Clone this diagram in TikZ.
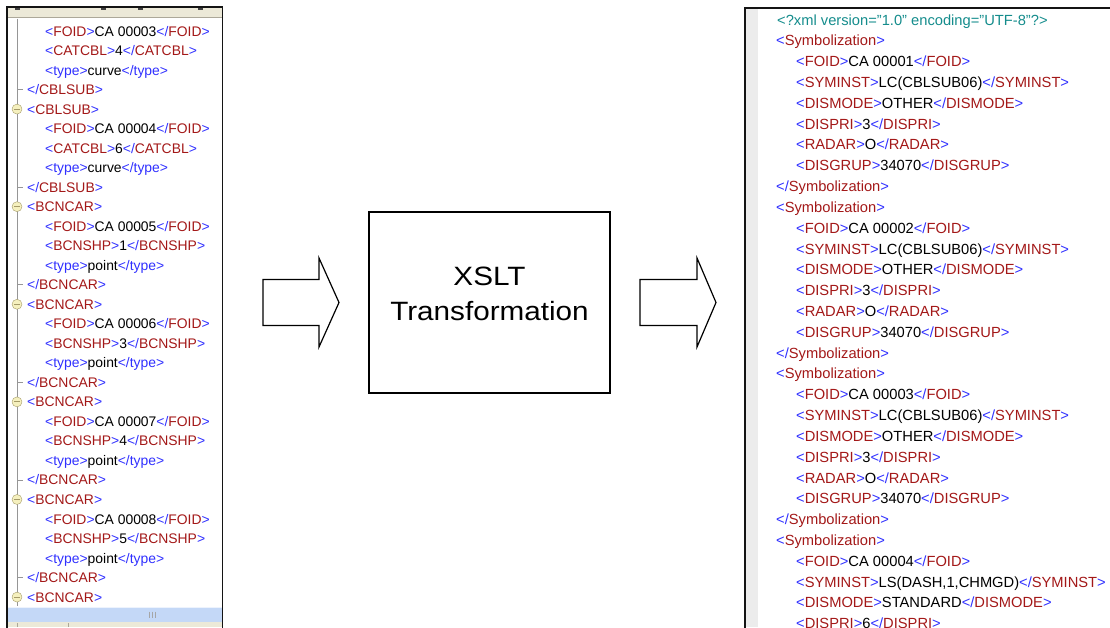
\documentclass[tikz,border=0pt]{standalone}
\usepackage{fontspec}
\setmainfont{Liberation Sans}
\definecolor{tagbr}{RGB}{48,48,255}
\definecolor{tagnm}{RGB}{163,24,24}
\definecolor{decl}{RGB}{20,140,140}
\definecolor{hdr}{RGB}{236,233,216}
\definecolor{hdrline}{RGB}{172,168,153}
\definecolor{gut}{RGB}{236,236,236}
\definecolor{treeln}{RGB}{150,150,150}
\definecolor{iconfill}{RGB}{245,240,190}
\definecolor{iconedge}{RGB}{165,155,105}
\definecolor{scroll}{RGB}{196,216,247}
\definecolor{frame}{RGB}{20,20,20}

% XML markup helpers
\newcommand\xo[1]{\textcolor{tagbr}{<}\textcolor{tagnm}{#1}\textcolor{tagbr}{>}}
\newcommand\xc[1]{\textcolor{tagbr}{</}\textcolor{tagnm}{#1}\textcolor{tagbr}{>}}
\newcommand\xel[2]{\xo{#1}#2\xc{#1}}
\newcommand\xty[1]{\textcolor{tagbr}{<type>}#1\textcolor{tagbr}{</type>}}

\begin{document}
\begin{tikzpicture}[x=1pt,y=-1pt,
  lt/.style={anchor=base west, inner sep=0pt, font=\fontsize{13.9}{16}\selectfont},
  rt/.style={anchor=base west, inner sep=0pt, font=\fontsize{14.7}{17}\selectfont},
  fold/.style={circle, draw=iconedge, fill=iconfill, minimum size=10pt, inner sep=0pt,
    path picture={\draw[iconedge, line width=1pt]
      ([xshift=-3pt]path picture bounding box.center) -- ([xshift=3pt]path picture bounding box.center);}},
  twig/.style={treeln, line width=0.8pt},
  blockarrow/.style={draw=black, line width=1.2pt, line join=miter, fill=white},
  panel/.style={frame, line width=1.8pt}
]
\useasboundingbox (0,0) rectangle (1110,627);
\clip (0,0) rectangle (1110,627);

% ---------------- source document (left pane) ----------------
\fill[hdr] (8,8) rectangle (222,17.5);
\draw[hdrline, line width=1pt] (8,17.8) -- (222,17.8);
\foreach \mx in {17,103,140,200}
  \fill[black!75] (\mx-2.5,8) rectangle (\mx+2.5,9.6);
\fill[scroll] (8,607) rectangle (222,622);
\draw[white!70!scroll, line width=0.8pt] (8,607.5) -- (222,607.5);
\foreach \gx in {149,152,155}
  \draw[black!35, line width=0.6pt] (\gx,611.5) -- (\gx,617.5);
\fill[hdr] (8,622) rectangle (222,627);
\foreach \sx in {17,68}
  \draw[hdrline, line width=0.6pt] (\sx,623) -- (\sx,627);

\draw[twig] (17,18.5) -- (17,606);

\node[lt] (l1)  at (45,36)     {\xel{FOID}{CA 00003}};
\node[lt] (l2)  at (45,55.52)  {\xel{CATCBL}{4}};
\node[lt] (l3)  at (45,75.04)  {\xty{curve}};
\node[lt] (l4)  at (27,94.56)  {\xc{CBLSUB}};
\node[lt] (l5)  at (27,114.08) {\xo{CBLSUB}};
\node[lt] (l6)  at (45,133.6)  {\xel{FOID}{CA 00004}};
\node[lt] (l7)  at (45,153.12) {\xel{CATCBL}{6}};
\node[lt] (l8)  at (45,172.64) {\xty{curve}};
\node[lt] (l9)  at (27,192.16) {\xc{CBLSUB}};
\node[lt] (l10) at (27,211.68) {\xo{BCNCAR}};
\node[lt] (l11) at (45,231.2)  {\xel{FOID}{CA 00005}};
\node[lt] (l12) at (45,250.72) {\xel{BCNSHP}{1}};
\node[lt] (l13) at (45,270.24) {\xty{point}};
\node[lt] (l14) at (27,289.76) {\xc{BCNCAR}};
\node[lt] (l15) at (27,309.28) {\xo{BCNCAR}};
\node[lt] (l16) at (45,328.8)  {\xel{FOID}{CA 00006}};
\node[lt] (l17) at (45,348.32) {\xel{BCNSHP}{3}};
\node[lt] (l18) at (45,367.84) {\xty{point}};
\node[lt] (l19) at (27,387.36) {\xc{BCNCAR}};
\node[lt] (l20) at (27,406.88) {\xo{BCNCAR}};
\node[lt] (l21) at (45,426.4)  {\xel{FOID}{CA 00007}};
\node[lt] (l22) at (45,445.92) {\xel{BCNSHP}{4}};
\node[lt] (l23) at (45,465.44) {\xty{point}};
\node[lt] (l24) at (27,484.96) {\xc{BCNCAR}};
\node[lt] (l25) at (27,504.48) {\xo{BCNCAR}};
\node[lt] (l26) at (45,524)    {\xel{FOID}{CA 00008}};
\node[lt] (l27) at (45,543.52) {\xel{BCNSHP}{5}};
\node[lt] (l28) at (45,563.04) {\xty{point}};
\node[lt] (l29) at (27,582.56) {\xc{BCNCAR}};
\node[lt] (l30) at (27,602.08) {\xo{BCNCAR}};

% tree twigs at closing tags, fold buttons at opening tags
\foreach \c in {4,9,14,19,24,29}
  \draw[twig] (17,{36+19.52*(\c-1)-5}) -- (23,{36+19.52*(\c-1)-5});
\foreach \o in {5,10,15,20,25,30}
  \node[fold] (f\o) at (17,{36+19.52*(\o-1)-5}) {};

\draw[panel] (7,640) -- (7,7) -- (222.5,7) -- (222.5,640);

% ---------------- transformation ----------------
\draw[blockarrow] (263,279.5) -- (319,279.5) -- (319,258) -- (339,302.5)
  -- (319,347) -- (319,325.5) -- (263,325.5) -- cycle;
\node[draw, line width=1.2pt, minimum width=241pt, minimum height=181pt, inner sep=0pt]
  (xslt) at (489.5,302.5) {};
\node[inner sep=0pt, align=center, font=\fontsize{26.5}{35}\selectfont]
  (xsltlbl) at (489.5,294) {\scalebox{1.12}[1]{XSLT}\\\scalebox{1.12}[1]{Transformation}};
\draw[blockarrow] (640,279.5) -- (697,279.5) -- (697,258) -- (716,302.5)
  -- (697,347) -- (697,325.5) -- (640,325.5) -- cycle;

% ---------------- result document (right pane) ----------------
\fill[gut] (746,9) rectangle (758,627);

\node[rt] (r1)  at (777,25)     {\textcolor{decl}{<?xml version="1.0" encoding="UTF-8"?>}};
\node[rt] (r2)  at (776,45.82)  {\xo{Symbolization}};
\node[rt] (r3)  at (796,66.64)  {\xel{FOID}{CA 00001}};
\node[rt] (r4)  at (796,87.46)  {\xel{SYMINST}{LC(CBLSUB06)}};
\node[rt] (r5)  at (796,108.28) {\xel{DISMODE}{OTHER}};
\node[rt] (r6)  at (796,129.1)  {\xel{DISPRI}{3}};
\node[rt] (r7)  at (796,149.92) {\xel{RADAR}{O}};
\node[rt] (r8)  at (796,170.74) {\xel{DISGRUP}{34070}};
\node[rt] (r9)  at (776,191.56) {\xc{Symbolization}};
\node[rt] (r10) at (776,212.38) {\xo{Symbolization}};
\node[rt] (r11) at (796,233.2)  {\xel{FOID}{CA 00002}};
\node[rt] (r12) at (796,254.02) {\xel{SYMINST}{LC(CBLSUB06)}};
\node[rt] (r13) at (796,274.84) {\xel{DISMODE}{OTHER}};
\node[rt] (r14) at (796,295.66) {\xel{DISPRI}{3}};
\node[rt] (r15) at (796,316.48) {\xel{RADAR}{O}};
\node[rt] (r16) at (796,337.3)  {\xel{DISGRUP}{34070}};
\node[rt] (r17) at (776,358.12) {\xc{Symbolization}};
\node[rt] (r18) at (776,378.94) {\xo{Symbolization}};
\node[rt] (r19) at (796,399.76) {\xel{FOID}{CA 00003}};
\node[rt] (r20) at (796,420.58) {\xel{SYMINST}{LC(CBLSUB06)}};
\node[rt] (r21) at (796,441.4)  {\xel{DISMODE}{OTHER}};
\node[rt] (r22) at (796,462.22) {\xel{DISPRI}{3}};
\node[rt] (r23) at (796,483.04) {\xel{RADAR}{O}};
\node[rt] (r24) at (796,503.86) {\xel{DISGRUP}{34070}};
\node[rt] (r25) at (776,524.68) {\xc{Symbolization}};
\node[rt] (r26) at (776,545.5)  {\xo{Symbolization}};
\node[rt] (r27) at (796,566.32) {\xel{FOID}{CA 00004}};
\node[rt] (r28) at (796,587.14) {\xel{SYMINST}{LS(DASH,1,CHMGD)}};
\node[rt] (r29) at (796,607.96) {\xel{DISMODE}{STANDARD}};
\node[rt] (r30) at (796,628.78) {\xel{DISPRI}{6}};

\draw[panel] (745,640) -- (745,8) -- (1115,8);
\end{tikzpicture}
\end{document}
